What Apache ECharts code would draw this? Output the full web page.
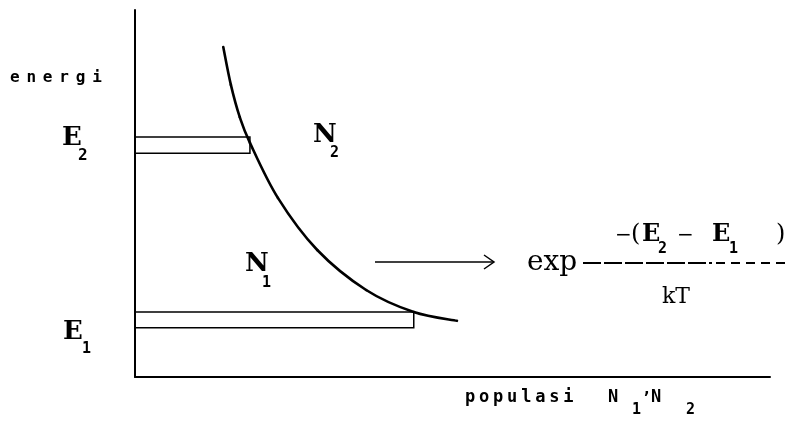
<!DOCTYPE html>
<html><head><meta charset="utf-8">
<script src="https://cdn.jsdelivr.net/npm/echarts@6/dist/echarts.min.js"></script>
<style>html,body{margin:0;padding:0;background:#fff}#c{width:797px;height:427px}</style>
</head><body><div id="c"></div>
<script>
// ---- data (axis units 0..100) ----
const curvePopulation = [13.9, 15.1, 16.5, 18.1, 22.5, 28.7, 36.4, 43.9, 50.7];
const curveEnergy     = [89.9, 79.6, 70.8, 63.8, 48.8, 34.6, 23.7, 17.7, 15.3];
const levelNames      = ['E1', 'E2'];
const levelLow        = [13.4, 61.0];
const levelHigh       = [17.7, 65.4];
const levelPopulation = [43.9, 18.1];
const yAxisTitle = 'energi';
const xAxisTitle = 'populasi';

// typewriter-style letter spacing for the two axis words
const spacedWords = { 'energi': 6.8, 'populasi': 3.8 };
(function () {
  const proto = CanvasRenderingContext2D.prototype;
  const orig = proto.fillText;
  proto.fillText = function (t, x, y, w) {
    if (Object.prototype.hasOwnProperty.call(spacedWords, t)) {
      const gap = spacedWords[t];
      const prevAlign = this.textAlign;
      this.textAlign = 'left';
      let cx = x;
      for (const ch of t) {
        orig.call(this, ch, cx, y);
        cx += this.measureText(ch).width + gap;
      }
      this.textAlign = prevAlign;
      return;
    }
    return w === undefined ? orig.call(this, t, x, y) : orig.call(this, t, x, y, w);
  };
})();

const SERIF = '"DejaVu Serif", "Liberation Serif", serif';
const MONO = '"DejaVu Sans Mono", monospace';

function txt(text, x, y, font, size, weight) {
  return {
    type: 'text', x: x, y: y, silent: true,
    style: { text: text, font: (weight || 'normal') + ' ' + size + 'px ' + font,
             fill: '#000', align: 'left', verticalAlign: 'middle' }
  };
}

const chart = echarts.init(document.getElementById('c'), null, { renderer: 'canvas' });

const graphics = [
  txt(yAxisTitle, 10, 78, MONO, 16, 'bold'),
  txt('E', 62, 138, SERIF, 26, 'bold'),
  txt('2', 78, 156, MONO, 16, 'bold'),
  txt('N', 313, 135, SERIF, 26, 'bold'),
  txt('2', 330, 153, MONO, 15, 'bold'),
  txt('N', 245, 264, SERIF, 26, 'bold'),
  txt('1', 262, 283, MONO, 15, 'bold'),
  txt('E', 63, 332, SERIF, 26, 'bold'),
  txt('1', 82, 349, MONO, 15, 'bold'),
  // arrow
  { type: 'line', silent: true, shape: { x1: 375, y1: 262, x2: 493, y2: 262 }, style: { stroke: '#000', lineWidth: 1.5 } },
  { type: 'polyline', silent: true, shape: { points: [[484, 255], [494, 262], [484, 269]] }, style: { stroke: '#000', lineWidth: 1.5, fill: 'none' } },
  txt('exp', 527, 263, SERIF, 28, 'normal'),
  // fraction
  txt('\u2212', 615, 236, SERIF, 20, 'normal'),
  txt('(', 631, 235, SERIF, 24, 'normal'),
  txt('E', 642, 235, SERIF, 24, 'bold'),
  txt('2', 658, 249, MONO, 15, 'bold'),
  txt('\u2212', 677, 236, SERIF, 20, 'normal'),
  txt('E', 712, 235, SERIF, 24, 'bold'),
  txt('1', 729, 249, MONO, 15, 'bold'),
  txt(')', 776, 235, SERIF, 24, 'normal'),
  { type: 'line', silent: true, shape: { x1: 583, y1: 263, x2: 712, y2: 263 }, style: { stroke: '#000', lineWidth: 2, lineDash: [18, 3] } },
  { type: 'line', silent: true, shape: { x1: 716, y1: 263, x2: 790, y2: 263 }, style: { stroke: '#000', lineWidth: 2, lineDash: [9, 6] } },
  txt('kT', 662, 297, SERIF, 22, 'normal'),
  // x axis title
  txt(xAxisTitle, 465, 398, MONO, 17, 'bold'),
  txt('N', 608, 398, MONO, 17, 'bold'),
  txt('1', 632, 410, MONO, 15, 'bold'),
  txt(',', 642, 390, MONO, 16, 'bold'),
  txt('N', 651, 398, MONO, 17, 'bold'),
  txt('2', 686, 410, MONO, 15, 'bold')
];

const curveData = curvePopulation.map((p, i) => [p, curveEnergy[i]]);

chart.setOption({
  animation: false,
  backgroundColor: '#fff',
  grid: { left: 135, right: 27, top: 10, bottom: 50, containLabel: false },
  xAxis: {
    type: 'value', min: 0, max: 100,
    axisLine: { show: true, onZero: false, lineStyle: { color: '#000', width: 2 } },
    axisTick: { show: false }, axisLabel: { show: false }, splitLine: { show: false }
  },
  yAxis: {
    type: 'value', min: 0, max: 100,
    axisLine: { show: true, onZero: false, lineStyle: { color: '#000', width: 2 } },
    axisTick: { show: false }, axisLabel: { show: false }, splitLine: { show: false }
  },
  series: [
    {
      type: 'custom', name: 'levels',
      renderItem: function (params, api) {
        const p0 = api.coord([0, api.value(2)]);
        const p1 = api.coord([api.value(0), api.value(1)]);
        return {
          type: 'rect',
          shape: { x: p0[0], y: p0[1], width: p1[0] - p0[0], height: p1[1] - p0[1] },
          style: { fill: 'none', stroke: '#000', lineWidth: 1.5 }
        };
      },
      data: levelPopulation.map((p, i) => ({ name: levelNames[i], value: [p, levelLow[i], levelHigh[i]] })),
      z: 2
    },
    {
      // smooth distribution curve: one Catmull-Rom segment per data point
      type: 'custom', name: 'distribution',
      renderItem: function (params, api) {
        const i = params.dataIndex, n = curveData.length;
        if (i >= n - 1) return null;
        const P = (k) => api.coord(curveData[Math.max(0, Math.min(n - 1, k))]);
        const a = P(i - 1), b = P(i), c = P(i + 1), d = P(i + 2);
        return {
          type: 'bezierCurve',
          shape: {
            x1: b[0], y1: b[1], x2: c[0], y2: c[1],
            cpx1: b[0] + (c[0] - a[0]) / 6, cpy1: b[1] + (c[1] - a[1]) / 6,
            cpx2: c[0] - (d[0] - b[0]) / 6, cpy2: c[1] - (d[1] - b[1]) / 6
          },
          style: { fill: 'none', stroke: '#000', lineWidth: 2.6, lineCap: 'round' }
        };
      },
      data: curveData,
      z: 3
    }
  ],
  graphic: graphics
});
</script></body></html>
